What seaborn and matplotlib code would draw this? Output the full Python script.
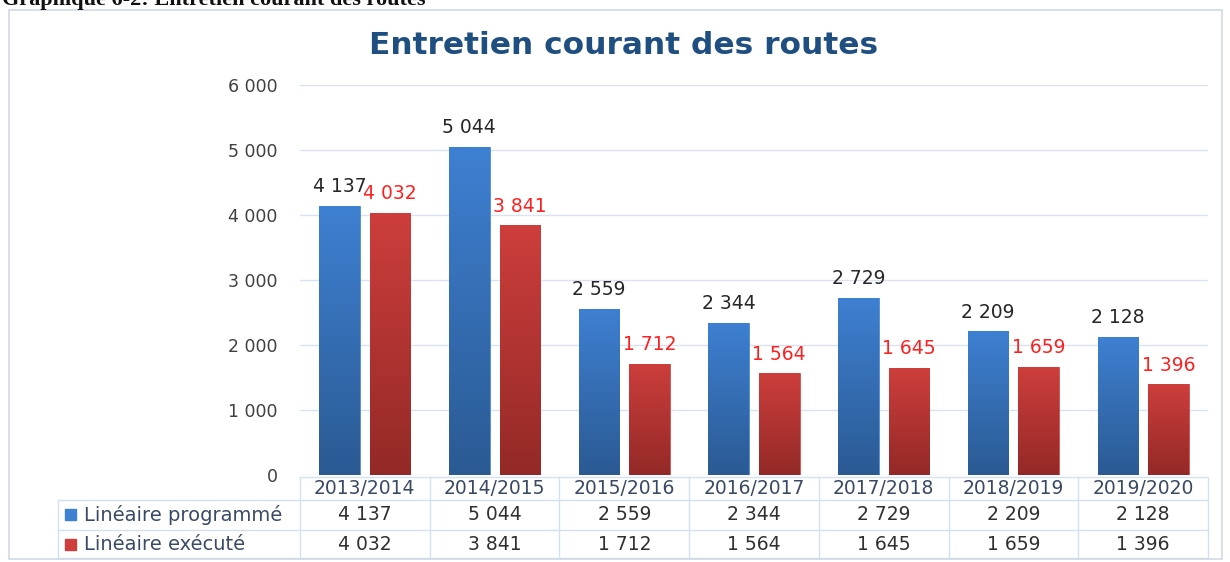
import numpy as np
import pandas as pd
import matplotlib
matplotlib.use("Agg")
import matplotlib.pyplot as plt
import matplotlib.colors as mcolors
from matplotlib.patches import Rectangle
import seaborn as sns

# Data
periodes = ["2013/2014", "2014/2015", "2015/2016", "2016/2017",
            "2017/2018", "2018/2019", "2019/2020"]
programme = [4137, 5044, 2559, 2344, 2729, 2209, 2128]
execute = [4032, 3841, 1712, 1564, 1645, 1659, 1396]
series = ["Linéaire programmé", "Linéaire exécuté"]
yticks = [0, 1000, 2000, 3000, 4000, 5000, 6000]

df = pd.DataFrame({
    "periode": periodes * 2,
    "valeur": programme + execute,
    "serie": [series[0]] * len(periodes) + [series[1]] * len(periodes),
})

# colours: (top, bottom) of the gradient
grad = {
    series[0]: ("#3E80D2", "#2B5A93"),
    series[1]: ("#CD3E3C", "#932927"),
}
label_col = {series[0]: "#262626", series[1]: "#FF2020"}


def fmt(v):
    return f"{int(v):,}".replace(",", " ")


sns.set_style("white")
plt.rcParams["font.family"] = ["DejaVu Sans"]

W, H = 1230, 562
fig = plt.figure(figsize=(W / 100, H / 100), dpi=100)
ax = fig.add_axes([300 / W, 1 - 475 / H, (1208 - 300) / W, (475 - 85) / H])

sns.barplot(data=df, x="periode", y="valeur", hue="serie",
            palette=[grad[s][0] for s in series], width=0.78, gap=0.2,
            legend=False, ax=ax, saturation=1)

ax.set_xlim(-0.5, len(periodes) - 0.5)
ax.set_ylim(0, 6000)
ax.set_yticks(yticks)
ax.set_yticklabels([fmt(t) for t in yticks], fontsize=12.5, color="#404040")
ax.tick_params(axis="y", length=0, pad=16)
ax.set_xticks([])
ax.set_xlabel("")
ax.set_ylabel("")
ax.yaxis.grid(True, color="#D8E2F0", lw=1)
ax.set_axisbelow(True)
for sp in ax.spines.values():
    sp.set_visible(False)

# gradient fill + value labels
for cont, s in zip(ax.containers, series):
    cmap = mcolors.LinearSegmentedColormap.from_list("g", [grad[s][1], grad[s][0]])
    for bar in cont:
        x0, w, h = bar.get_x(), bar.get_width(), bar.get_height()
        img = ax.imshow(np.linspace(0, 1, 256).reshape(-1, 1), cmap=cmap,
                        origin="lower", aspect="auto",
                        extent=[x0, x0 + w, 0, h], zorder=bar.get_zorder())
        img.set_clip_path(bar)
        bar.set_edgecolor(grad[s][0])
        bar.set_linewidth(0.5)
        ax.annotate(fmt(h), (x0 + w / 2, h), xytext=(0, 7),
                    textcoords="offset points", ha="center", va="bottom",
                    fontsize=13.5, color=label_col[s])
ax.set_xlim(-0.5, len(periodes) - 0.5)
ax.set_ylim(0, 6000)

# data table under the chart
tr = ax.get_xaxis_transform()
lc = "#D5E1F0"
left = -0.5 - (300 - 58) / ((1208 - 300) / len(periodes))
y_top, y_r1, y_r2, y_bot = -0.005, -0.064, -0.141, -0.213
ax.plot([-0.5, 6.5], [y_top, y_top], transform=tr, color=lc, lw=1, clip_on=False)
for yy in (y_r1, y_r2, y_bot):
    ax.plot([left, 6.5], [yy, yy], transform=tr, color=lc, lw=1, clip_on=False)
for i in range(len(periodes) + 1):
    ax.plot([i - 0.5, i - 0.5], [y_top, y_bot], transform=tr, color=lc, lw=1,
            clip_on=False)
ax.plot([left, left], [y_r1, y_bot], transform=tr, color=lc, lw=1, clip_on=False)

for i, p in enumerate(periodes):
    ax.text(i, (y_top + y_r1) / 2, p, transform=tr, ha="center", va="center",
            fontsize=13.5, color="#3A4A64")
    ax.text(i, (y_r1 + y_r2) / 2, fmt(programme[i]), transform=tr,
            ha="center", va="center", fontsize=13.5, color="#303030")
    ax.text(i, (y_r2 + y_bot) / 2, fmt(execute[i]), transform=tr,
            ha="center", va="center", fontsize=13.5, color="#303030")

for yy, s in zip(((y_r1 + y_r2) / 2, (y_r2 + y_bot) / 2), series):
    fig.patches.append(Rectangle((65 / W, 0), 11 / W, 11 / H, color=grad[s][0],
                                 transform=fig.transFigure))
    fig.patches[-1].set_y(ax.transAxes.transform((0, yy))[1] / H - 5.5 / H)
    ax.text(left + 26 / 129.7, yy, s, transform=tr, ha="left", va="center",
            fontsize=14, color="#3A4A64")

# titles and frame
fig.text(624 / W, 1 - 45 / H, "Entretien courant des routes", ha="center",
         va="center", fontsize=22.5, fontweight="bold", color="#1F4E80")
fig.text(2 / W, 1 - 5 / H, "Graphique 6-2: Entretien courant des routes",
         ha="left", va="baseline", fontsize=16, fontweight="bold",
         family="Liberation Serif", color="#111111")
fig.patches.append(Rectangle((9 / W, 3 / H), (1222 - 9) / W, (552 - 3) / H,
                             fill=False, edgecolor="#D0DAE6", lw=1.2,
                             transform=fig.transFigure))

fig.savefig("out.png", dpi=100, facecolor="white")
